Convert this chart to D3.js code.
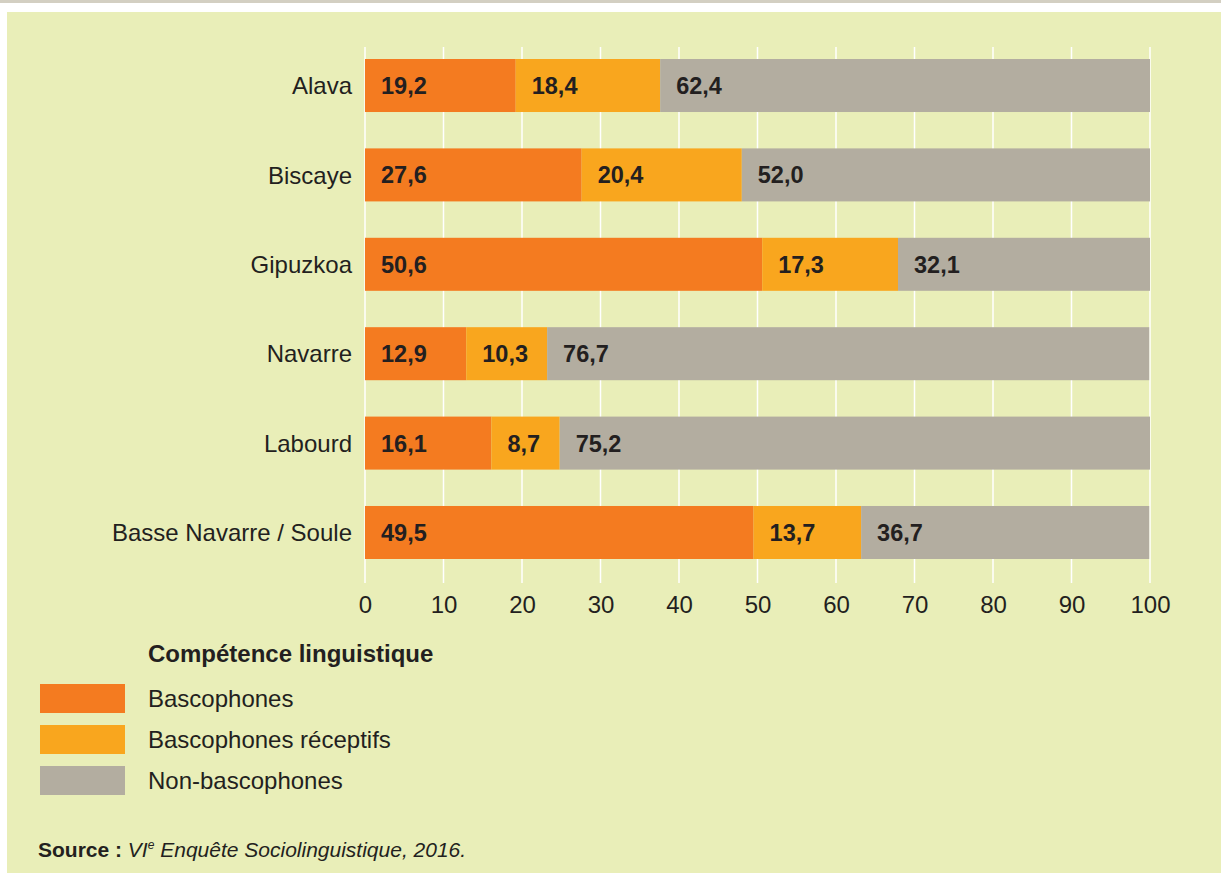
<!DOCTYPE html>
<html><head><meta charset="utf-8">
<script src="https://cdn.jsdelivr.net/npm/d3@7"></script>
<style>
html,body{margin:0;padding:0;background:#fff;}
svg{display:block;font-family:"Liberation Sans",Arial,sans-serif;}
</style></head>
<body>
<svg id="c" width="1221" height="873"></svg>
<script>
const categories = ["Alava","Biscaye","Gipuzkoa","Navarre","Labourd","Basse Navarre / Soule"];
const seriesNames = ["Bascophones","Bascophones réceptifs","Non-bascophones"];
const bascophones = [19.2,27.6,50.6,12.9,16.1,49.5];
const receptifs = [18.4,20.4,17.3,10.3,8.7,13.7];
const nonBascophones = [62.4,52.0,32.1,76.7,75.2,36.7];
const tickValues = [0,10,20,30,40,50,60,70,80,90,100];
const colors = ["#f47b20","#f9a61e","#b3ada0"];

const svg = d3.select("#c");
const textColor = "#231f20";
// frame
svg.append("rect").attr("x",0).attr("y",0).attr("width",1221).attr("height",3).attr("fill","#d3cfc2");
svg.append("rect").attr("x",7).attr("y",12).attr("width",1214).attr("height",861).attr("fill","#e9eeb8");

const x = d3.scaleLinear().domain([0,100]).range([365,1150]);
const y = d3.scaleBand().domain(categories).range([59,559]).paddingInner(0.407).paddingOuter(0);
const series = [bascophones,receptifs,nonBascophones];
const data = categories.map((c,i)=>({cat:c,vals:series.map(s=>s[i])}));

// gridlines
svg.append("g").selectAll("line").data(tickValues).join("line")
  .attr("x1",d=>x(d)).attr("x2",d=>x(d)).attr("y1",47).attr("y2",583)
  .attr("stroke","#ffffff").attr("stroke-width",1.5);

const fmt = v => v.toFixed(1).replace(".",",");
const g = svg.append("g");
data.forEach(d=>{
  let acc = 0;
  d.vals.forEach((v,k)=>{
    const x0 = x(acc), x1 = x(acc+v);
    g.append("rect").attr("x",x0).attr("y",y(d.cat)).attr("width",x1-x0).attr("height",y.bandwidth()).attr("fill",colors[k]);
    g.append("text").attr("x",x0+16).attr("y",y(d.cat)+y.bandwidth()/2).attr("dy","0.36em")
      .attr("font-size",23.5).attr("font-weight","bold").attr("fill",textColor).text(fmt(v));
    acc += v;
  });
});

// category axis labels
svg.append("g").selectAll("text").data(categories).join("text")
  .attr("x",352).attr("y",d=>y(d)+y.bandwidth()/2).attr("dy","0.36em")
  .attr("text-anchor","end").attr("font-size",24).attr("fill",textColor).text(d=>d);

// x axis
const xAxis = d3.axisBottom(x).tickValues(tickValues).tickSize(0).tickPadding(0).tickFormat(d3.format("d"));
const ax = svg.append("g").attr("transform","translate(0,613)").call(xAxis);
ax.select(".domain").remove();
ax.selectAll("text").attr("font-size",24).attr("fill",textColor).attr("font-family","'Liberation Sans',Arial,sans-serif").attr("dy","0");

// legend
svg.append("text").attr("x",148).attr("y",662).attr("font-size",24).attr("font-weight","bold").attr("fill",textColor).text("Compétence linguistique");
const lg = svg.append("g").selectAll("g").data(seriesNames).join("g")
  .attr("transform",(d,i)=>`translate(0,${684+i*41})`);
lg.append("rect").attr("x",40).attr("y",0).attr("width",85).attr("height",29).attr("fill",(d,i)=>colors[i]);
lg.append("text").attr("x",148).attr("y",23).attr("font-size",24).attr("fill",textColor).text(d=>d);

// source
const src = svg.append("text").attr("x",38).attr("y",857).attr("font-size",21).attr("fill",textColor);
src.append("tspan").attr("font-weight","bold").text("Source : ");
src.append("tspan").attr("font-style","italic").text("VI");
src.append("tspan").attr("font-style","italic").attr("font-size",12).attr("dy",-8).text("e");
src.append("tspan").attr("font-style","italic").attr("dy",8).text(" Enquête Sociolinguistique, 2016.");
</script>
</body></html>
